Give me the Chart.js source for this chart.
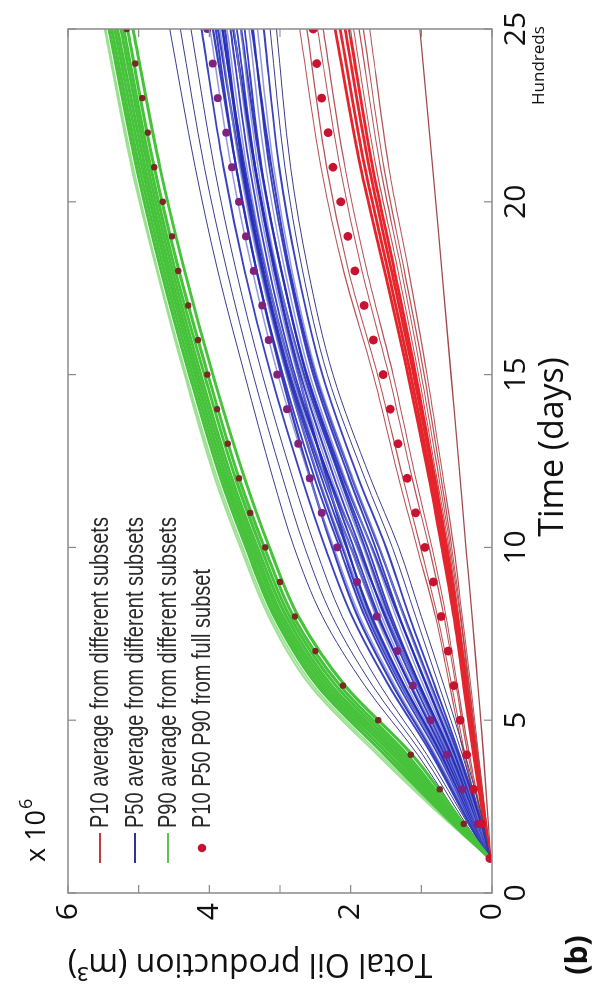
<!DOCTYPE html>
<html>
<head>
<meta charset="utf-8">
<script src="https://cdn.jsdelivr.net/npm/chart.js@4.4.1/dist/chart.umd.min.js"></script>
<style>
  html, body { margin: 0; padding: 0; background: #fff; overflow: hidden; }
  /* the figure is laid out landscape and turned a quarter turn counter-clockwise */
  #wrap { position: absolute; left: 0; top: 0; width: 994px; height: 601px;
          transform-origin: 0 0; transform: translate(0, 994px) rotate(-90deg); }
</style>
</head>
<body>
<div id="wrap"><canvas id="chart" width="994" height="601"></canvas></div>
<script>
// time in hundreds of days, production in 1e6 m3
var times = [1, 2, 4, 6, 8, 10, 12, 15, 18, 21, 25];
var dotTimes = [1, 2, 3, 4, 5, 6, 7, 8, 9, 10, 11, 12, 13, 14, 15, 16, 17, 18, 19, 20, 21, 22, 23, 24, 25];

var p10Full = [0.03, 0.15, 0.26, 0.36, 0.45, 0.54, 0.62, 0.72, 0.83, 0.95, 1.08, 1.20, 1.33,
               1.44, 1.54, 1.68, 1.81, 1.94, 2.04, 2.14, 2.25, 2.32, 2.41, 2.48, 2.53];
var p50Full = [0.03, 0.20, 0.42, 0.64, 0.87, 1.12, 1.34, 1.63, 1.91, 2.19, 2.41, 2.58, 2.74,
               2.90, 3.04, 3.16, 3.25, 3.37, 3.48, 3.58, 3.68, 3.76, 3.88, 3.95, 4.03];
var p90Full = [0.03, 0.40, 0.74, 1.15, 1.61, 2.11, 2.50, 2.79, 3.00, 3.21, 3.42, 3.58, 3.74,
               3.89, 4.03, 4.16, 4.30, 4.44, 4.53, 4.66, 4.78, 4.87, 4.95, 5.05, 5.17];

// P10 averages, one row per subset (values at `times`)
var p10Lines = [
  [0.03, 0.17, 0.40, 0.60, 0.80, 1.06, 1.32, 1.68, 2.10, 2.42, 2.72],
  [0.03, 0.16, 0.38, 0.57, 0.77, 1.01, 1.26, 1.62, 2.03, 2.34, 2.62],
  [0.03, 0.14, 0.34, 0.51, 0.68, 0.89, 1.13, 1.46, 1.84, 2.15, 2.47],
  [0.03, 0.13, 0.32, 0.49, 0.65, 0.85, 1.08, 1.40, 1.77, 2.08, 2.39],
  [0.03, 0.11, 0.26, 0.40, 0.54, 0.71, 0.89, 1.19, 1.52, 1.86, 2.22],
  [0.03, 0.10, 0.25, 0.38, 0.52, 0.68, 0.86, 1.15, 1.47, 1.80, 2.15],
  [0.03, 0.10, 0.24, 0.37, 0.50, 0.66, 0.83, 1.11, 1.42, 1.74, 2.08],
  [0.03, 0.09, 0.23, 0.36, 0.49, 0.64, 0.81, 1.08, 1.38, 1.69, 2.02],
  [0.03, 0.09, 0.22, 0.34, 0.47, 0.61, 0.78, 1.04, 1.33, 1.64, 1.96],
  [0.03, 0.09, 0.21, 0.33, 0.45, 0.59, 0.75, 1.00, 1.28, 1.58, 1.88],
  [0.03, 0.08, 0.20, 0.32, 0.44, 0.57, 0.72, 0.96, 1.24, 1.53, 1.82],
  [0.03, 0.08, 0.19, 0.30, 0.42, 0.54, 0.69, 0.92, 1.18, 1.46, 1.73],
  [0.02, 0.05, 0.12, 0.20, 0.28, 0.37, 0.45, 0.58, 0.71, 0.84, 1.02],
];

// P50 averages
var p50Lines = [
  [0.03, 0.12, 0.38, 0.68, 1.00, 1.32, 1.72, 2.25, 2.60, 2.85, 3.05],
  [0.03, 0.14, 0.42, 0.75, 1.08, 1.41, 1.80, 2.33, 2.68, 2.93, 3.14],
  [0.03, 0.15, 0.46, 0.81, 1.17, 1.50, 1.89, 2.40, 2.75, 3.01, 3.23],
  [0.03, 0.17, 0.50, 0.88, 1.25, 1.59, 1.97, 2.48, 2.83, 3.09, 3.32],
  [0.03, 0.18, 0.53, 0.93, 1.31, 1.65, 2.02, 2.53, 2.88, 3.15, 3.38],
  [0.03, 0.19, 0.55, 0.97, 1.36, 1.71, 2.08, 2.58, 2.93, 3.20, 3.44],
  [0.03, 0.20, 0.58, 1.02, 1.42, 1.76, 2.13, 2.63, 2.98, 3.26, 3.50],
  [0.03, 0.22, 0.61, 1.06, 1.48, 1.82, 2.19, 2.68, 3.04, 3.31, 3.56],
  [0.03, 0.22, 0.63, 1.09, 1.52, 1.87, 2.23, 2.71, 3.07, 3.35, 3.61],
  [0.03, 0.23, 0.65, 1.13, 1.56, 1.91, 2.27, 2.75, 3.11, 3.39, 3.65],
  [0.03, 0.24, 0.67, 1.16, 1.60, 1.96, 2.31, 2.79, 3.15, 3.43, 3.70],
  [0.03, 0.25, 0.69, 1.20, 1.64, 2.00, 2.36, 2.83, 3.19, 3.47, 3.75],
  [0.03, 0.26, 0.72, 1.24, 1.70, 2.06, 2.41, 2.88, 3.24, 3.53, 3.81],
  [0.03, 0.27, 0.74, 1.27, 1.74, 2.10, 2.45, 2.91, 3.28, 3.57, 3.85],
  [0.03, 0.28, 0.76, 1.32, 1.80, 2.16, 2.51, 2.96, 3.33, 3.62, 3.91],
  [0.03, 0.29, 0.80, 1.37, 1.87, 2.24, 2.58, 3.03, 3.39, 3.69, 3.99],
  [0.03, 0.32, 0.85, 1.46, 1.98, 2.36, 2.69, 3.13, 3.50, 3.80, 4.11],
  [0.03, 0.34, 0.92, 1.58, 2.12, 2.50, 2.82, 3.25, 3.62, 3.93, 4.26],
  [0.03, 0.37, 0.98, 1.69, 2.26, 2.65, 2.96, 3.38, 3.75, 4.07, 4.41],
  [0.03, 0.40, 1.05, 1.80, 2.40, 2.80, 3.10, 3.50, 3.88, 4.20, 4.56],
  [0.03, 0.24, 0.70, 1.25, 1.72, 2.05, 2.34, 2.74, 3.08, 3.36, 3.66],
  [0.03, 0.21, 0.60, 1.05, 1.50, 1.90, 2.30, 2.82, 3.20, 3.50, 3.82],
  [0.03, 0.19, 0.57, 1.02, 1.45, 1.80, 2.15, 2.66, 3.05, 3.35, 3.66],
  [0.03, 0.26, 0.73, 1.28, 1.76, 2.12, 2.46, 2.90, 3.26, 3.55, 3.88],
  [0.03, 0.17, 0.52, 0.92, 1.32, 1.70, 2.10, 2.62, 2.98, 3.27, 3.55],
  [0.03, 0.30, 0.82, 1.40, 1.90, 2.26, 2.57, 2.98, 3.33, 3.62, 3.95],
  [0.03, 0.23, 0.66, 1.15, 1.62, 2.00, 2.37, 2.86, 3.23, 3.52, 3.78],
  [0.03, 0.16, 0.48, 0.86, 1.24, 1.60, 1.98, 2.50, 2.86, 3.12, 3.40],
];

// P90 averages
var p90Lines = [
  [0.03, 0.40, 1.13, 2.08, 2.74, 3.15, 3.50, 3.95, 4.35, 4.70, 5.08],
  [0.03, 0.43, 1.20, 2.15, 2.81, 3.22, 3.58, 4.02, 4.43, 4.78, 5.16],
  [0.03, 0.45, 1.25, 2.21, 2.86, 3.27, 3.63, 4.07, 4.48, 4.83, 5.21],
  [0.03, 0.47, 1.30, 2.27, 2.91, 3.32, 3.68, 4.12, 4.52, 4.87, 5.25],
  [0.03, 0.49, 1.35, 2.32, 2.96, 3.36, 3.72, 4.16, 4.56, 4.91, 5.30],
  [0.03, 0.51, 1.40, 2.37, 3.00, 3.40, 3.76, 4.20, 4.60, 4.95, 5.34],
  [0.03, 0.53, 1.46, 2.42, 3.04, 3.44, 3.80, 4.24, 4.64, 4.99, 5.38],
  [0.03, 0.55, 1.52, 2.47, 3.08, 3.48, 3.84, 4.28, 4.68, 5.03, 5.42],
  [0.03, 0.57, 1.58, 2.53, 3.13, 3.53, 3.89, 4.33, 4.73, 5.08, 5.47],
  [0.03, 0.59, 1.62, 2.57, 3.16, 3.56, 3.92, 4.35, 4.74, 5.10, 5.48],
];

var legendLabels = [
  "P10 average from different subsets",
  "P50 average from different subsets",
  "P90 average from different subsets",
  "P10 P50 P90 from full subset",
];

var frameColor = "#8a8a8a";

function toPoints(xs, ys) {
  return ys.map(function (v, j) { return { x: xs[j], y: v }; });
}

function lineSet(rows, styleFor) {
  return rows.map(function (row, i) {
    var s = styleFor(i);
    return {
      data: toPoints(times, row),
      borderColor: s.color,
      borderWidth: s.width,
      pointRadius: 0,
      fill: false,
      cubicInterpolationMode: "monotone",
    };
  });
}

function dotSet(values, color, radius) {
  return {
    data: toPoints(dotTimes, values),
    showLine: false,
    pointRadius: radius,
    pointBackgroundColor: color,
    pointBorderColor: color,
    pointBorderWidth: 0,
  };
}

var redStyle = function (i) {
  if (i >= 4 && i <= 7) return { color: "#e6242b", width: 2.8 };
  if (i === 12) return { color: "#a4484c", width: 1.3 };
  return { color: "rgba(172,52,58,0.85)", width: 1.1 };
};
var blueStyle = function (i) {
  if (i >= 20) return { color: "rgba(34,44,180,0.9)", width: 2.2 };
  if (i <= 1 || i >= 17) return { color: "#3b3d8e", width: 1 };
  if (i % 2 === 0) return { color: "rgba(36,46,186,0.9)", width: 1.9 };
  return { color: "rgba(124,128,212,0.8)", width: 1.5 };
};
var greenStyle = function (i) {
  if (i >= 8) return { color: "rgba(150,224,140,0.95)", width: 2 };
  return { color: "#46c23b", width: 3 };
};

// first dataset ends up on top
var datasets = [
  dotSet(p10Full, "#c8122f", 4.4),
  dotSet(p50Full, "#82207e", 4),
  dotSet(p90Full, "#7a2a22", 3.2),
]
  .concat(lineSet(p90Lines, greenStyle))
  .concat(lineSet(p50Lines, blueStyle))
  .concat(lineSet(p10Lines, redStyle));

var decor = {
  id: "decor",
  afterDraw: function (chart) {
    var ctx = chart.ctx;
    var a = chart.chartArea;
    var xs = chart.scales.x;
    var ys = chart.scales.y;
    var tl = 8;
    ctx.save();

    // box and inward ticks on all four sides
    ctx.strokeStyle = frameColor;
    ctx.lineWidth = 1.5;
    ctx.strokeRect(a.left, a.top, a.right - a.left, a.bottom - a.top);
    ctx.lineWidth = 1.2;
    ctx.beginPath();
    xs.ticks.forEach(function (t) {
      var px = xs.getPixelForValue(t.value);
      ctx.moveTo(px, a.bottom); ctx.lineTo(px, a.bottom - tl);
      ctx.moveTo(px, a.top); ctx.lineTo(px, a.top + tl);
    });
    ys.ticks.forEach(function (t) {
      var py = ys.getPixelForValue(t.value);
      ctx.moveTo(a.left, py); ctx.lineTo(a.left + tl, py);
      ctx.moveTo(a.right, py); ctx.lineTo(a.right - tl, py);
    });
    ctx.stroke();

    // legend, text squeezed to a condensed face
    var rows = [100, 135, 168, 202];
    var colors = ["#c23b42", "#31319c", "#5fc353"];
    ctx.font = "25px 'Liberation Sans', Arial, sans-serif";
    ctx.textBaseline = "middle";
    ctx.textAlign = "left";
    legendLabels.forEach(function (txt, i) {
      var y = rows[i];
      if (i < 3) {
        ctx.strokeStyle = colors[i];
        ctx.lineWidth = 2;
        ctx.beginPath();
        ctx.moveTo(131, y); ctx.lineTo(161, y);
        ctx.stroke();
      } else {
        ctx.fillStyle = "#c8122f";
        ctx.beginPath();
        ctx.arc(146, y, 4.2, 0, Math.PI * 2);
        ctx.fill();
      }
      ctx.save();
      ctx.translate(166, y + 1);
      ctx.scale(0.8, 1);
      ctx.fillStyle = "#2a2a2a";
      ctx.fillText(txt, 0, 0);
      ctx.restore();
    });

    // axis titles and notes
    ctx.fillStyle = "#111";
    ctx.textAlign = "center";
    ctx.font = "34px 'Open Sans', sans-serif";
    ctx.fillText("Time (days)", 547, 553);

    ctx.save();
    ctx.translate(31, 250);
    ctx.rotate(-Math.PI / 2);
    ctx.font = "32px 'Open Sans', sans-serif";
    ctx.fillText("Total Oil production (m\u00b3)", 0, 0);
    ctx.restore();

    ctx.textAlign = "left";
    ctx.font = "27px 'Open Sans', sans-serif";
    ctx.fillText("x 10", 132, 37);
    var w = ctx.measureText("x 10").width;
    ctx.font = "18px 'Open Sans', sans-serif";
    ctx.fillText("6", 132 + w + 1, 27);

    ctx.font = "17px 'Open Sans', sans-serif";
    ctx.fillText("Hundreds", 889, 539);

    ctx.textAlign = "center";
    ctx.font = "bold 30px 'Open Sans', sans-serif";
    ctx.fillText("(b)", 39, 578);

    ctx.restore();
  },
};

new Chart(document.getElementById("chart"), {
  type: "line",
  data: { datasets: datasets },
  options: {
    responsive: false,
    animation: false,
    devicePixelRatio: 1,
    layout: { padding: { left: 0, top: 68, right: 29, bottom: 0 } },
    plugins: { legend: { display: false }, tooltip: { enabled: false } },
    scales: {
      x: {
        type: "linear",
        min: 0,
        max: 25,
        grid: { display: false, drawTicks: false },
        border: { display: false },
        ticks: { stepSize: 5, padding: 6, color: "#111", font: { family: "'Open Sans', sans-serif", size: 30 } },
        afterFit: function (s) { s.height = 109; },
      },
      y: {
        type: "linear",
        min: 0,
        max: 6,
        grid: { display: false, drawTicks: false },
        border: { display: false },
        ticks: {
          stepSize: 1,
          padding: 10,
          color: "#111",
          font: { family: "'Open Sans', sans-serif", size: 30 },
          callback: function (v) { return v % 2 === 0 ? v : ""; },
        },
        afterFit: function (s) { s.width = 101; },
      },
    },
  },
  plugins: [decor],
});
</script>
</body>
</html>
